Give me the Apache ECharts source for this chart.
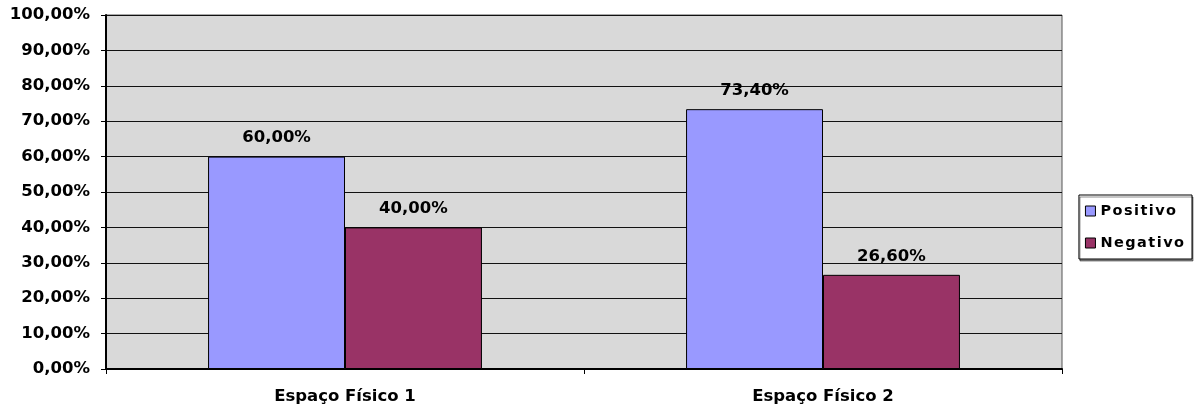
<!DOCTYPE html>
<html>
<head>
<meta charset="utf-8">
<script src="https://cdn.jsdelivr.net/npm/echarts@6/dist/echarts.min.js"></script>
<style>
  html, body { margin: 0; padding: 0; background: #fff; }
  #chart { width: 1195px; height: 411px; }
</style>
</head>
<body>
<div id="chart"></div>
<script>
// dados do gráfico
var categorias = ['Espaço Físico 1', 'Espaço Físico 2']
var positivo = [60.0, 73.4]
var negativo = [40.0, 26.6]
var nomesSeries = ['Positivo', 'Negativo']

var fonte = 'DejaVu Sans, Arial, sans-serif'

function pct (v) {
  return v.toFixed(2).replace('.', ',') + '%'
}

var rotulo = {
  show: true,
  position: 'top',
  distance: 10,
  fontFamily: fonte,
  fontWeight: 'bold',
  fontSize: 16.5,
  color: '#000',
  formatter: function (p) { return pct(p.value) }
}

var chart = echarts.init(document.getElementById('chart'))
chart.setOption({
  animation: false,
  legend: {
    data: nomesSeries,
    orient: 'vertical',
    right: 3,
    top: 195,
    icon: 'rect',
    itemWidth: 10,
    itemHeight: 10,
    itemGap: 16,
    padding: [8, 8, 8, 6],
    borderColor: '#000',
    borderWidth: 1,
    shadowColor: 'rgba(0,0,0,0.45)',
    shadowOffsetX: 1,
    shadowOffsetY: 2,
    backgroundColor: '#fff',
    itemStyle: { borderColor: '#000', borderWidth: 1 },
    formatter: function (name) {
      return name.split('').join('\u200a')
    },
    textStyle: {
      fontFamily: fonte,
      fontWeight: 'bold',
      fontSize: 14.5,
      lineHeight: 16,
      color: '#000'
    }
  },
  grid: {
    left: 106,
    right: 133,
    top: 15,
    bottom: 42,
    show: true,
    backgroundColor: '#d9d9d9',
    borderColor: '#555',
    borderWidth: 1
  },
  xAxis: {
    type: 'category',
    data: categorias,
    axisLine: { lineStyle: { color: '#000', width: 2 } },
    axisTick: { show: true, length: 5, lineStyle: { color: '#000' } },
    axisLabel: {
      fontFamily: fonte,
      fontWeight: 'bold',
      fontSize: 16.5,
      color: '#000',
      margin: 19
    }
  },
  yAxis: {
    type: 'value',
    min: 0,
    max: 100,
    interval: 10,
    axisLine: { show: true, lineStyle: { color: '#000', width: 2 } },
    axisTick: { show: true, length: 5, lineStyle: { color: '#000' } },
    splitLine: { lineStyle: { color: '#111', width: 1 } },
    axisLabel: {
      fontFamily: fonte,
      fontWeight: 'bold',
      fontSize: 16.5,
      color: '#000',
      margin: 16,
      formatter: function (v) { return pct(v) }
    }
  },
  series: [
    {
      name: nomesSeries[0],
      type: 'bar',
      data: positivo,
      barGap: '0%',
      barCategoryGap: '42.7%',
      itemStyle: { color: '#9999ff', borderColor: '#000', borderWidth: 1 },
      label: rotulo
    },
    {
      name: nomesSeries[1],
      type: 'bar',
      data: negativo,
      barGap: '0%',
      barCategoryGap: '42.7%',
      itemStyle: { color: '#993366', borderColor: '#000', borderWidth: 1 },
      label: rotulo
    }
  ]
})
</script>
</body>
</html>
